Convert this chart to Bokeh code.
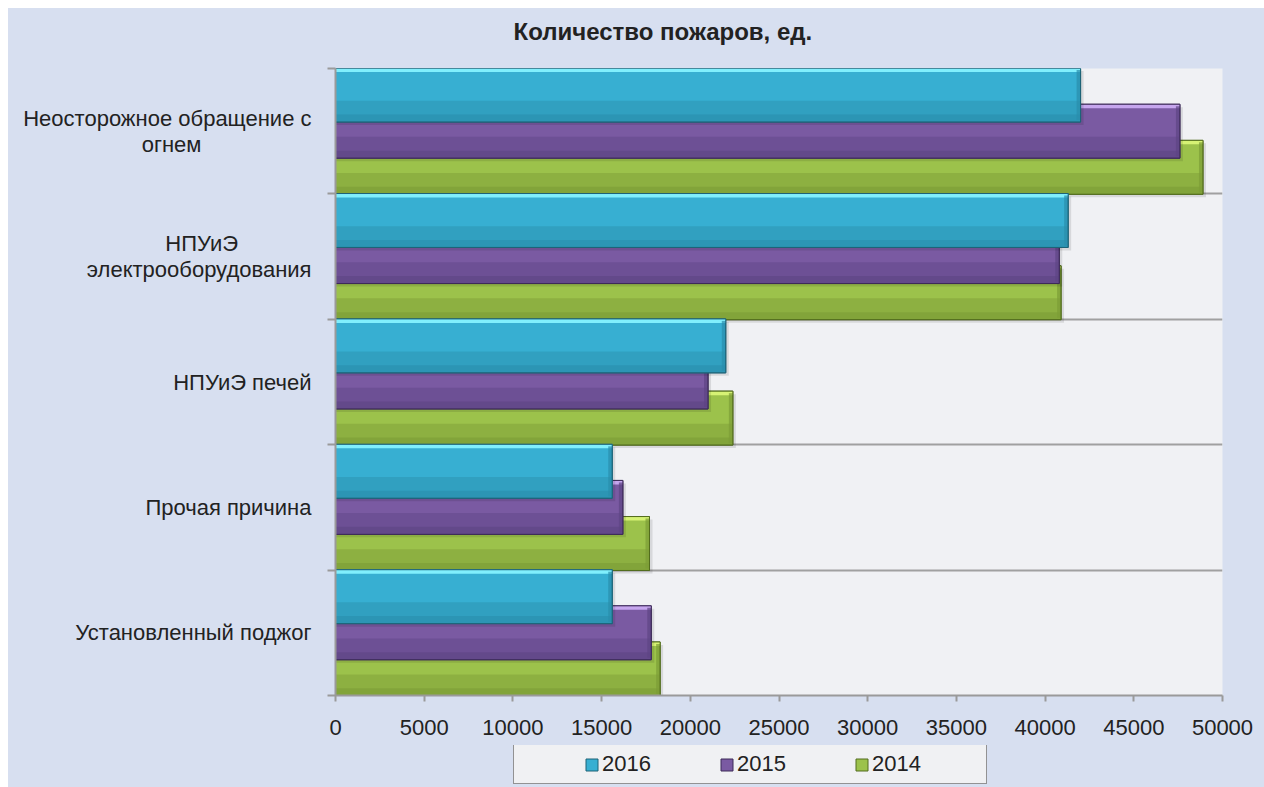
from bokeh.plotting import figure
from bokeh.models import Range1d, FixedTicker, Legend, LegendItem
from bokeh.layouts import column
from bokeh.embed import file_html
from bokeh.resources import INLINE

# ---------------- data ----------------
categories = ["Неосторожное обращение с огнем", "НПУиЭ электрооборудования",
              "НПУиЭ печей", "Прочая причина", "Установленный поджог"]
category_lines = [["Неосторожное обращение с", "огнем"],
                  ["НПУиЭ", "электрооборудования"],
                  ["НПУиЭ печей"], ["Прочая причина"], ["Установленный поджог"]]
years = ["2016", "2015", "2014"]
fires_2016 = [42000, 41300, 22000, 15600, 15600]
fires_2015 = [47600, 40800, 21000, 16200, 17800]
fires_2014 = [48900, 40900, 22400, 17700, 18300]
x_ticks = [0, 5000, 10000, 15000, 20000, 25000, 30000, 35000, 40000, 45000, 50000]
title_text = "Количество пожаров, ед."

# ---------------- layout ----------------
W = 1256
FL, FT, FW, FH, FB = 327, 60, 887, 627, 50
H1 = FT + FH + FB
H2 = 779 - H1
XMAX = 50000
NCAT = len(categories)
px_x = FW / XMAX
px_y = FH / NCAT
FONT = "Liberation Sans"
TXT = "#222222"
BG = "#d7dff0"
NBSP = "\u00a0"

p = figure(width=W, height=H1, output_backend="svg", toolbar_location=None,
           x_range=Range1d(0, XMAX), y_range=Range1d(0, NCAT),
           min_border_left=FL, min_border_right=W - FL - FW,
           min_border_top=FT, min_border_bottom=FB,
           title=title_text + "\n")
p.border_fill_color = BG
p.background_fill_color = "#f0f1f4"
p.outline_line_color = None

# title (the empty second line only reserves room above the text)
p.title.align = "left"
p.title.offset = 178
p.title.vertical_align = "top"
p.title.standoff = 0
p.title.text_font = FONT
p.title.text_font_size = "24px"
p.title.text_font_style = "bold"
p.title.text_color = TXT
p.title.text_line_height = 0.83

# x axis
p.xaxis.ticker = FixedTicker(ticks=x_ticks, minor_ticks=[])
p.xaxis.axis_line_color = "#9a9a9a"
p.xaxis.axis_line_width = 2
p.xaxis.major_tick_line_color = "#9a9a9a"
p.xaxis.major_tick_line_width = 2
p.xaxis.major_tick_out = 6
p.xaxis.major_tick_in = 0
p.xaxis.minor_tick_line_color = None
p.xaxis.major_label_text_font = FONT
p.xaxis.major_label_text_font_size = "22px"
p.xaxis.major_label_text_color = TXT
p.xaxis.major_label_standoff = 18

# y axis: labels at category centres, tick marks at category boundaries.
# Short lines get trailing no-break spaces so the lines look centred in a
# right-aligned block.
def centred_block(lines):
    if len(lines) == 1:
        return lines[0]
    widest = max(len(s) for s in lines)
    pads = {"огнем": 18, "НПУиЭ": 12}
    return "\n".join(s + NBSP * pads.get(s, 0) if len(s) < widest else s for s in lines)

category_labels = [centred_block(l) for l in category_lines]
centers = [NCAT - 0.5 - i for i in range(NCAT)]
bounds = list(range(NCAT + 1))
p.yaxis.ticker = FixedTicker(ticks=centers, minor_ticks=bounds)
p.yaxis.major_label_overrides = {c: lab for c, lab in zip(centers, category_labels)}
p.yaxis.axis_line_color = "#9a9a9a"
p.yaxis.axis_line_width = 2
p.yaxis.major_tick_line_color = None
p.yaxis.major_tick_out = 8
p.yaxis.major_tick_in = 0
p.yaxis.minor_tick_line_color = "#9a9a9a"
p.yaxis.minor_tick_line_width = 2
p.yaxis.minor_tick_out = 8
p.yaxis.minor_tick_in = 0
p.yaxis.major_label_standoff = 16
p.yaxis.major_label_text_font = FONT
p.yaxis.major_label_text_font_size = "22px"
p.yaxis.major_label_text_color = TXT
p.yaxis.major_label_text_line_height = 1.05

p.xgrid.visible = False
p.ygrid.grid_line_color = None
p.ygrid.minor_grid_line_color = "#a0a0a0"
p.ygrid.minor_grid_line_width = 2

# ---------------- bars ----------------
styles = {
    "2014": dict(main="#9cc24b", light="#d6f274", dark="#7c9c36", edge="#526c1e"),
    "2015": dict(main="#7a5aa2", light="#c6a6ee", dark="#5e4484", edge="#3d2b58"),
    "2016": dict(main="#37afd2", light="#80effd", dark="#2a8dab", edge="#1d6276"),
}
series = [(fires_2014, -0.288, "2014"), (fires_2015, 0.0, "2015"), (fires_2016, 0.288, "2016")]
bar_h = 0.43
for vals, off, yr in series:
    c = styles[yr]
    ys = [NCAT - 0.5 - i + off for i in range(NCAT)]
    p.hbar(y=[y - 3 / px_y for y in ys], left=0, right=[v + 3 / px_x for v in vals],
           height=bar_h, fill_color="#000000", fill_alpha=0.10, line_color=None)
    p.hbar(y=ys, left=0, right=vals, height=bar_h,
           fill_color=c["main"], line_color=c["edge"], line_width=1)
    h2 = 0.17
    p.hbar(y=[y - bar_h / 2 + h2 / 2 for y in ys], left=0, right=vals, height=h2,
           fill_color=c["dark"], fill_alpha=0.45, line_color=None)
    h3 = 0.06
    p.hbar(y=[y - bar_h / 2 + h3 / 2 for y in ys], left=0, right=vals, height=h3,
           fill_color=c["dark"], fill_alpha=0.6, line_color=None)
    hh = 4 / px_y
    p.hbar(y=[y + bar_h / 2 - hh / 2 for y in ys], left=0, right=vals, height=hh,
           fill_color=c["light"], line_color=None)
    p.hbar(y=ys, left=[v - 4 / px_x for v in vals], right=vals, height=bar_h - hh,
           fill_color=c["dark"], fill_alpha=0.7, line_color=None)
    p.hbar(y=ys, left=0, right=vals, height=bar_h,
           fill_color=None, line_color=c["edge"], line_width=1)

# ---------------- legend strip (own small figure under the chart) ----------------
p2 = figure(width=W, height=H2, output_backend="svg", toolbar_location=None,
            x_axis_type=None, y_axis_type=None,
            x_range=Range1d(0, 1), y_range=Range1d(0, 1),
            min_border_left=0, min_border_right=0, min_border_top=0, min_border_bottom=0)
p2.border_fill_color = BG
p2.background_fill_color = None
p2.outline_line_color = None
p2.grid.visible = False

items = []
for yr in years:
    c = styles[yr]
    # legend swatch source: a bar kept outside the strip's visible range
    r = p2.hbar(y=[-10], left=[0], right=[1], height=0.5,
                fill_color=c["main"], line_color=c["edge"], line_width=1)
    items.append(LegendItem(label=yr, renderers=[r]))

legend = Legend(items=items, orientation="horizontal", location=(178, 3), margin=0,
                title=" ", title_location="left", title_standoff=40,
                title_text_font_size="21px",
                padding=6, spacing=9, label_width=108, label_standoff=3,
                glyph_width=15, glyph_height=15,
                label_text_font=FONT, label_text_font_size="22px",
                label_text_color=TXT,
                border_line_color="#333333", border_line_width=1.5,
                background_fill_color="#f0f1f3", background_fill_alpha=1.0)
p2.add_layout(legend, "center")

layout = column(p, p2, spacing=0)
layout.margin = (8, 0, 0, 8)
layout.styles = {"background-color": BG}

open("out.html", "w").write(file_html(layout, INLINE, title=title_text))
